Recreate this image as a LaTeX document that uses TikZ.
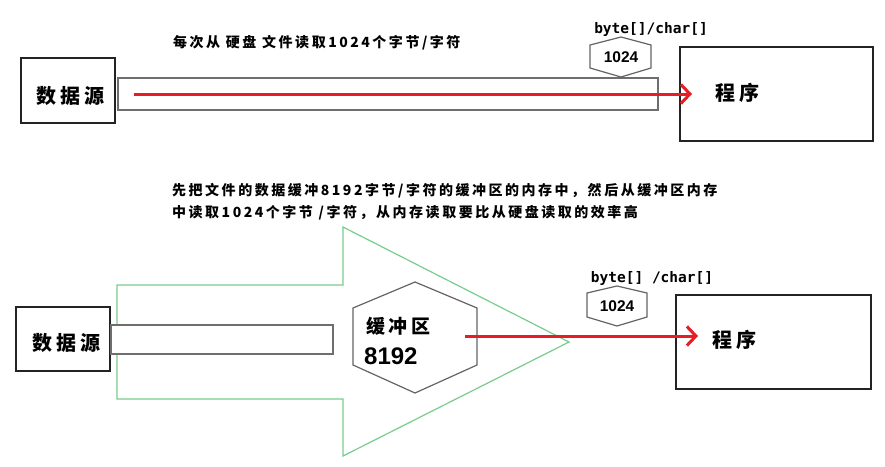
\documentclass[tikz,border=0pt]{standalone}
\usepackage{fontspec}
\setmainfont{Liberation Sans}
\newfontfamily\cjk{Noto Sans CJK SC}
\newfontfamily\cjksp[LetterSpace=18]{Noto Sans CJK SC}
\newfontfamily\cjklab[LetterSpace=20]{Noto Sans CJK SC}
\newfontfamily\monof{DejaVu Sans Mono}
\usetikzlibrary{arrows.meta}
\definecolor{redc}{RGB}{232,28,36}
\definecolor{greenc}{RGB}{120,205,140}
\definecolor{barc}{RGB}{110,110,110}
\definecolor{boxc}{RGB}{35,35,35}
\definecolor{hexc}{RGB}{100,100,100}
\tikzset{
  box/.style={draw=boxc, line width=1.4pt, fill=white, inner sep=0pt},
  bar/.style={draw=barc, line width=1.4pt, fill=white, inner sep=0pt},
  hexline/.style={draw=hexc, line width=1.2pt, fill=white},
  bigarrow/.style={draw=greenc, line width=1.2pt},
  redarrow/.style={draw=redc, line width=3pt, -{Straight Barb[length=9pt,width=19pt]}},
  lab/.style={inner sep=0pt, font=\cjklab\bfseries\fontsize{20}{22}\selectfont},
  note/.style={inner sep=0pt, anchor=west, font=\cjksp\bfseries\fontsize{14}{16}\selectfont},
  mono/.style={inner sep=0pt, font=\monof\bfseries\fontsize{14.5}{16}\selectfont},
  num/.style={inner sep=0pt, font=\bfseries\fontsize{15.5}{17}\selectfont},
}
\begin{document}
\begin{tikzpicture}[x=1pt,y=-1pt]
\useasboundingbox[fill=white] (0,0) rectangle (885,466);

% ---------- top part ----------
\node[note] (t1) at (173,43) {每次从 硬盘 文件读取1024个字节/字符};
\node[box, minimum width=94pt, minimum height=65pt] (src1) at (68,90.5) {};
\node[lab] (src1t) at (70,96) {数据源};
\node[bar, minimum width=540pt, minimum height=32pt] (bar1) at (388,94) {};
\node[box, minimum width=193pt, minimum height=94pt] (prog1) at (776.5,94) {};
\node[lab] (prog1t) at (737,93) {程序};
\draw[hexline] (621,37) -- (651,45) -- (651,68) -- (621,77) -- (590,68) -- (590,45) -- cycle;
\node[num] (h1) at (621,57) {1024};
\node[mono] (bt1) at (651,29) {byte[]/char[]};
\coordinate (r1s) at (134,94);
\coordinate (r1e) at (692,94);
\draw[redarrow] (r1s) -- (r1e);

% ---------- bottom part ----------
\node[note] (t2) at (172,191) {先把文件的数据缓冲8192字节/字符的缓冲区的内存中，然后从缓冲区内存};
\node[note] (t3) at (172,213) {中读取1024个字节 /字符，从内存读取要比从硬盘读取的效率高};
\draw[bigarrow] (117,285) -- (343,285) -- (343,227) -- (569,342) -- (343,456) -- (343,399) -- (117,399) -- cycle;
\node[box, minimum width=94pt, minimum height=64pt] (src2) at (63,339) {};
\node[lab] (src2t) at (66,343) {数据源};
\node[bar, minimum width=222pt, minimum height=29pt] (bar2) at (222,339.5) {};
\draw[hexline] (415,282) -- (477,308) -- (477,365) -- (415,393) -- (353,365) -- (353,308) -- cycle;
\node[lab, anchor=west, font=\cjklab\bfseries\fontsize{19}{21}\selectfont] (buf) at (366,326) {缓冲区};
\node[inner sep=0pt, anchor=west, font=\bfseries\fontsize{24}{26}\selectfont] (bufn) at (364,356) {8192};
\node[box, minimum width=195pt, minimum height=94pt] (prog2) at (773.5,342) {};
\node[lab] (prog2t) at (734,340) {程序};
\draw[hexline] (617,286) -- (647,293) -- (647,317) -- (617,326) -- (587,317) -- (587,293) -- cycle;
\node[num] (h2) at (617,306) {1024};
\node[mono] (bt2) at (652,278) {byte[] /char[]};
\coordinate (r2s) at (465,336);
\coordinate (r2e) at (698,336);
\draw[redarrow] (r2s) -- (r2e);
\end{tikzpicture}
\end{document}
